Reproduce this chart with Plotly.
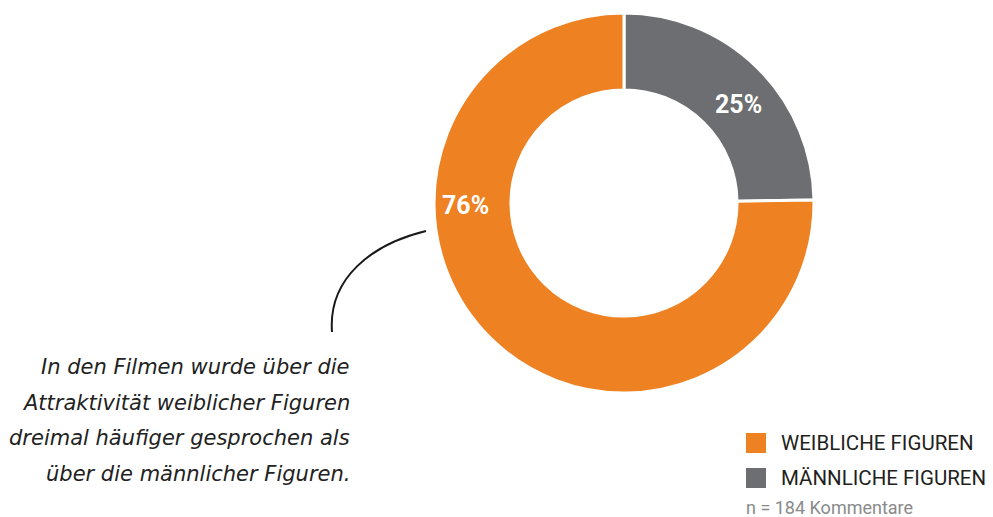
import plotly.graph_objects as go

# Data
labels = ["MÄNNLICHE FIGUREN", "WEIBLICHE FIGUREN"]
values = [25, 76]
pct_text = ["25%", "76%"]
legend_labels = ["WEIBLICHE FIGUREN", "MÄNNLICHE FIGUREN"]
note = "n = 184 Kommentare"
quote_lines = [
    "In den Filmen wurde über die",
    "Attraktivität weiblicher Figuren",
    "dreimal häufiger gesprochen als",
    "über die männlicher Figuren.",
]

ORANGE = "#EE8122"
GRAY = "#6D6E71"
colors = [GRAY, ORANGE]
legend_colors = [ORANGE, GRAY]

# page is 993x517; the html body has an 8px margin, so figure is 985x509
OFF = 8
W, H = 993, 517
FW, FH = W - OFF, H - OFF
cx, cy, R = 624, 203, 190

fig = go.Figure()
fig.add_trace(go.Pie(
    labels=labels, values=values, sort=False, direction="clockwise",
    rotation=0, hole=0.595, textinfo="none", hoverinfo="label+percent",
    marker=dict(colors=colors, line=dict(color="white", width=3)),
    domain=dict(x=[(cx - OFF - R) / FW, (cx - OFF + R) / FW],
                y=[(H - cy - R) / FH, (H - cy + R) / FH]),
    showlegend=False,
))

annotations = []
# percentage labels
for txt, (x, y) in zip(pct_text, [(738, 104), (465, 205)]):
    annotations.append(dict(x=x, y=y, xref="x", yref="y", text=txt, showarrow=False,
                            font=dict(family="Roboto", size=25, color="white", weight="bold")))
# quote
for i, line in enumerate(quote_lines):
    annotations.append(dict(x=352, y=367 + i * 35.5, xref="x", yref="y", text=line,
                            showarrow=False, xanchor="right", yanchor="middle",
                            font=dict(family="DejaVu Sans", size=21, color="#222222",
                                      style="italic")))
# legend
shapes = []
for i, (lab, col) in enumerate(zip(legend_labels, legend_colors)):
    y0 = 433 + i * 35
    shapes.append(dict(type="rect", xref="x", yref="y", x0=746, x1=766, y0=y0, y1=y0 + 20,
                       fillcolor=col, line=dict(width=0)))
    annotations.append(dict(x=779, y=y0 + 10, xref="x", yref="y", text=lab, showarrow=False,
                            xanchor="left", yanchor="middle",
                            font=dict(family="Roboto", size=20.5, color="#231F20")))
annotations.append(dict(x=744, y=507, xref="x", yref="y", text=note, showarrow=False,
                        xanchor="left", yanchor="middle",
                        font=dict(family="Roboto", size=18, color="#8A8A8A")))
# curved pointer line
shapes.append(dict(type="path", xref="x", yref="y",
                   path="M 426 231 C 372 244, 328 278, 332 332",
                   line=dict(color="#1A1A1A", width=2)))

fig.update_layout(
    width=FW, height=FH, margin=dict(l=0, r=0, t=0, b=0),
    paper_bgcolor="white", plot_bgcolor="white",
    xaxis=dict(range=[OFF, W], visible=False, fixedrange=True),
    yaxis=dict(range=[H, OFF], visible=False, fixedrange=True),
    annotations=annotations, shapes=shapes,
)
fig.write_html("out.html")
